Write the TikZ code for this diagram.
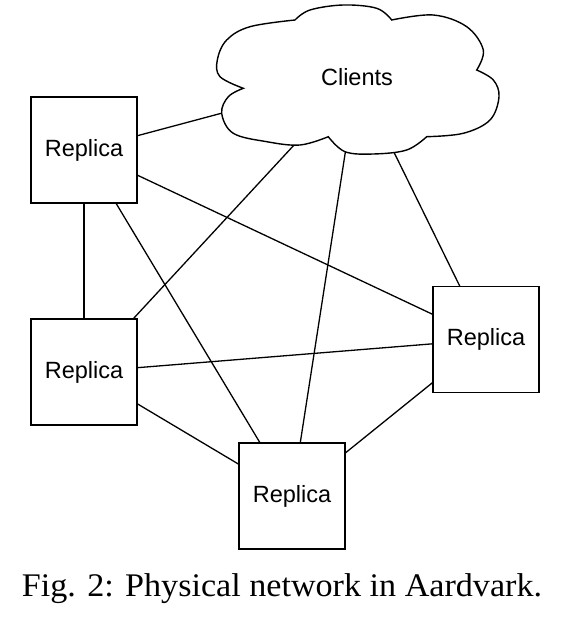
\documentclass[tikz,border=0pt]{standalone}
\usepackage{fontspec}
\setmainfont{Liberation Serif}
\newfontfamily\labelfont{Liberation Sans}
\usetikzlibrary{backgrounds}
\begin{document}
\begin{tikzpicture}[x=1pt,y=-1pt,
  replicabox/.style={draw=black, line width=1.5pt, fill=white, minimum width=106pt, minimum height=106pt, inner sep=0pt, font=\labelfont\fontsize{23.5}{27}\selectfont},
  link/.style={draw=black, line width=1.3pt},
  cloudline/.style={draw=black, line width=1.4pt, fill=white}]
\useasboundingbox (0,0) rectangle (574,620);
% cloud outline
\path[cloudline]
  plot[smooth, tension=0.6] coordinates {(243.3,88.3) (220,76.7) (217.3,60) (226.7,40) (250,26.7) (295,20)}
  -- plot[smooth, tension=0.6] coordinates {(295,20) (310,10) (343.3,5) (376.7,8.3) (391.7,20)}
  -- plot[smooth, tension=0.6] coordinates {(391.7,20) (433.3,15) (466.7,26.7) (483.3,50) (476.7,70)}
  -- plot[smooth, tension=0.6] coordinates {(476.7,70) (493.3,80) (499,96.7) (490,120) (463.3,133.3) (426.7,136.7)}
  -- plot[smooth, tension=0.6] coordinates {(426.7,136.7) (406.7,150) (373.3,154) (345,151.7) (328.3,136.7)}
  -- plot[smooth, tension=0.6] coordinates {(328.3,136.7) (300,145) (266.7,141.7) (233.3,133.3) (221.7,113.3) (228.3,96.7) (243.3,88.3)}
  -- cycle;
\node[font=\labelfont\fontsize{23.5}{27}\selectfont, inner sep=0pt] (clients) at (357,77) {Clients};
% replicas
\node[replicabox] (tl) at (84,150) {Replica};
\node[replicabox] (ml) at (84,372) {Replica};
\node[replicabox] (rr) at (486,339.5) {Replica};
\node[replicabox] (bb) at (292,496) {Replica};
% connectors
\begin{scope}[on background layer]
  \draw[link] (tl.center) -- (clients.center);
  \draw[link] (ml.center) -- (clients.center);
  \draw[link] (bb.center) -- (clients.center);
  \draw[link] (rr.center) -- (clients.center);
  \draw[link] (tl.center) -- (ml.center);
  \draw[link] (tl.center) -- (rr.center);
  \draw[link] (tl.center) -- (bb.center);
  \draw[link] (ml.center) -- (rr.center);
  \draw[link] (ml.center) -- (bb.center);
  \draw[link] (bb.center) -- (rr.center);
\end{scope}
% caption
\node[anchor=base, inner sep=0pt] (caption) at (282,596.7) {\scalebox{1.034}[1]{\fontsize{33}{40}\selectfont Fig. 2: Physical network in Aardvark.}};
\end{tikzpicture}
\end{document}
